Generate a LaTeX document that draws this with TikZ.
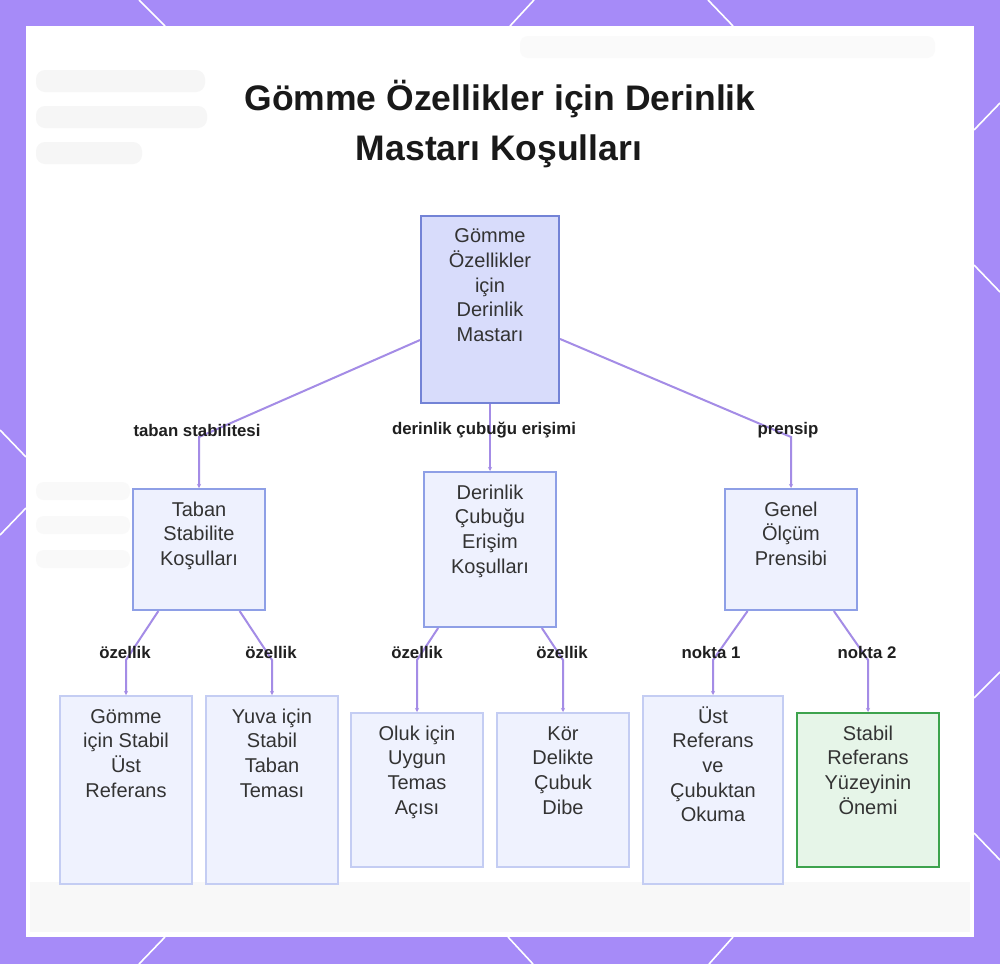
\documentclass[tikz,border=0pt]{standalone}
\usepackage{fontspec}
\setmainfont{Liberation Sans}
\usetikzlibrary{arrows.meta}
\definecolor{frame}{HTML}{A68BF8}
\definecolor{edgec}{HTML}{A48CE6}
\definecolor{rootfill}{HTML}{D8DCFB}
\definecolor{rootdraw}{HTML}{7383D6}
\definecolor{midfill}{HTML}{EEF1FE}
\definecolor{middraw}{HTML}{8E9FE6}
\definecolor{leaffill}{HTML}{EFF2FE}
\definecolor{leafdraw}{HTML}{C4CDF3}
\definecolor{greenfill}{HTML}{E6F5E8}
\definecolor{greendraw}{HTML}{3DA34D}
\definecolor{txtc}{HTML}{333333}
\definecolor{blob}{HTML}{F6F6F6}
\newcommand{\ml}[1]{\parbox[t]{160pt}{\centering\fontsize{20}{24.7}\selectfont #1}}
\begin{document}
\begin{tikzpicture}[x=1pt,y=-1pt,
  boxbase/.style={rectangle, line width=2pt, inner sep=0pt},
  rootbox/.style={boxbase, fill=rootfill, draw=rootdraw},
  midbox/.style={boxbase, fill=midfill, draw=middraw},
  leafbox/.style={boxbase, fill=leaffill, draw=leafdraw},
  greenbox/.style={boxbase, fill=greenfill, draw=greendraw},
  txt/.style={anchor=base, inner sep=0pt, text=txtc},
  elabel/.style={inner sep=0pt, font=\fontsize{16.8}{19}\selectfont\bfseries, text=black!88},
  edge/.style={draw=edgec, line width=2pt, -{Stealth[length=4pt,width=4pt]}},
  hexline/.style={draw=white, line width=1.6pt}
]
\useasboundingbox (0,0) rectangle (1000,964);
% frame
\fill[frame] (0,0) rectangle (1000,964);
\fill[white] (26,26) rectangle (974,937);
% decorative lines on frame
\draw[hexline] (139,0) -- (165,26);
\draw[hexline] (534,0) -- (510,26);
\draw[hexline] (708,0) -- (733,26);
\draw[hexline] (165,937) -- (139,964);
\draw[hexline] (508,937) -- (533,964);
\draw[hexline] (733,937) -- (709,964);
\draw[hexline] (0,430) -- (26,457);
\draw[hexline] (26,508) -- (0,535);
\draw[hexline] (1000,103) -- (974,130);
\draw[hexline] (974,265) -- (1000,292);
\draw[hexline] (1000,672) -- (974,698);
\draw[hexline] (974,833) -- (1000,860);
% faint background
\fill[blob, rounded corners=9pt] (36,70) rectangle (205,92);
\fill[blob, rounded corners=9pt] (36,106) rectangle (207,128);
\fill[blob, rounded corners=9pt] (36,142) rectangle (142,164);
\fill[blob!60!white, rounded corners=8pt] (520,36) rectangle (935,58);
\fill[blob!70!white, rounded corners=8pt] (36,482) rectangle (130,500);
\fill[blob!70!white, rounded corners=8pt] (36,516) rectangle (130,534);
\fill[blob!70!white, rounded corners=8pt] (36,550) rectangle (130,568);
\fill[blob!80!white] (30,882) rectangle (970,932);
% title
\node[inner sep=0pt, anchor=base, font=\fontsize{35.5}{50}\selectfont\bfseries, text=black!90] (title1) at (500,110) {Gömme Özellikler için Derinlik};
\node[inner sep=0pt, anchor=base, font=\fontsize{35.5}{50}\selectfont\bfseries, text=black!90] (title2) at (499,160) {Mastarı Koşulları};
% boxes
\node[rootbox, minimum width=138pt, minimum height=187pt] (root) at (490,309.35) {};
\node[midbox, minimum width=132pt, minimum height=121pt] (taban) at (199,549.5) {};
\node[midbox, minimum width=132pt, minimum height=155pt] (derin) at (490,549.5) {};
\node[midbox, minimum width=132pt, minimum height=121pt] (genel) at (791,549.5) {};
\node[leafbox, minimum width=132pt, minimum height=188pt] (la) at (126,790) {};
\node[leafbox, minimum width=132pt, minimum height=188pt] (lb) at (272,790) {};
\node[leafbox, minimum width=132pt, minimum height=154pt] (lc) at (417,790) {};
\node[leafbox, minimum width=132pt, minimum height=154pt] (ld) at (563,790) {};
\node[leafbox, minimum width=140pt, minimum height=188pt] (le) at (713,790) {};
\node[greenbox, minimum width=142pt, minimum height=154pt] (lf) at (868,790) {};
% box texts
\node[txt] (root-t) at (490,242.7) {\ml{Gömme\\Özellikler\\için\\Derinlik\\Mastarı}};
\node[txt] (taban-t) at (199,516) {\ml{Taban\\Stabilite\\Koşulları}};
\node[txt] (derin-t) at (490,499) {\ml{Derinlik\\Çubuğu\\Erişim\\Koşulları}};
\node[txt] (genel-t) at (791,516) {\ml{Genel\\Ölçüm\\Prensibi}};
\node[txt] (la-t) at (126,723) {\ml{Gömme\\için Stabil\\Üst\\Referans}};
\node[txt] (lb-t) at (272,723) {\ml{Yuva için\\Stabil\\Taban\\Teması}};
\node[txt] (lc-t) at (417,740) {\ml{Oluk için\\Uygun\\Temas\\Açısı}};
\node[txt] (ld-t) at (563,740) {\ml{Kör\\Delikte\\Çubuk\\Dibe}};
\node[txt] (le-t) at (713,723) {\ml{Üst\\Referans\\ve\\Çubuktan\\Okuma}};
\node[txt] (lf-t) at (868,740) {\ml{Stabil\\Referans\\Yüzeyinin\\Önemi}};
% bend coordinates
\coordinate (c1) at (199,437);
\coordinate (c3) at (791,437);
\coordinate (ca) at (126,660);
\coordinate (cb) at (272,660);
\coordinate (cc) at (417,660);
\coordinate (cd) at (563,660);
\coordinate (ce) at (713,660);
\coordinate (cf) at (868,660);
% edges
\draw[edge] (root) -- (c1) -- (taban);
\draw[edge] (root) -- (derin);
\draw[edge] (root) -- (c3) -- (genel);
\draw[edge] (taban) -- (ca) -- (la);
\draw[edge] (taban) -- (cb) -- (lb);
\draw[edge] (derin) -- (cc) -- (lc);
\draw[edge] (derin) -- (cd) -- (ld);
\draw[edge] (genel) -- (ce) -- (le);
\draw[edge] (genel) -- (cf) -- (lf);
% edge labels
\node[elabel] (e1) at (197,430) {taban stabilitesi};
\node[elabel] (e2) at (484,430) {derinlik çubuğu erişimi};
\node[elabel] (e3) at (788,430) {prensip};
\node[elabel] (ea) at (125,652) {özellik};
\node[elabel] (eb) at (271,652) {özellik};
\node[elabel] (ec) at (417,652) {özellik};
\node[elabel] (ed) at (562,652) {özellik};
\node[elabel] (ee) at (711,652) {nokta 1};
\node[elabel] (ef) at (867,652) {nokta 2};
\end{tikzpicture}
\end{document}
